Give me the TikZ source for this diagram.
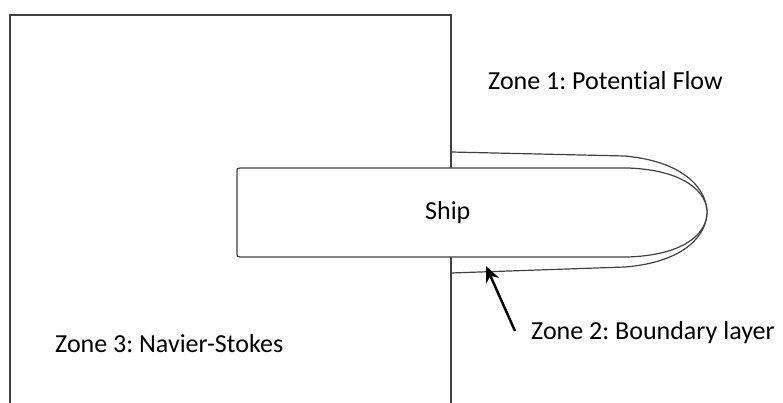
\documentclass[tikz,border=0pt]{standalone}
\usepackage{fontspec}
\setmainfont{Carlito}[Ligatures={NoCommon}]
\usetikzlibrary{arrows.meta}
\begin{document}
\frenchspacing
\begin{tikzpicture}[x=1pt,y=-1pt,
  outline/.style={draw=black!75,line width=1.2pt},
  lbl/.style={font=\fontsize{26}{30}\selectfont,inner sep=0pt,anchor=base west},
  pointer/.style={draw=black,line width=2.5pt,-{Stealth[length=16pt,width=14pt]}}]
\useasboundingbox (0,0) rectangle (783,403);
% zone 3 box (open at the bottom)
\draw[outline] (10,403) -- (10,15) -- (451,15) -- (451,403);
% boundary layer
\draw[outline] (451,152) -- (625,156) .. controls (688,162) and (707,192) .. (707,212)
  .. controls (707,234) and (686,262) .. (625,267) -- (451,273);
% ship
\draw[outline,fill=white] (240,168) -- (628,168) .. controls (684,170) and (707,192) .. (707,212)
  .. controls (707,234) and (684,255) .. (628,257) -- (240,257)
  .. controls (237,257) and (237,256) .. (237,254) -- (237,171) .. controls (237,169) and (237,168) .. (240,168) -- cycle;
\node[lbl] (ship) at (425,219) {Ship};
\node[lbl] (z1) at (488,90) {Zone 1: Potential Flow};
\node[lbl] (z2) at (531,339) {Zone 2: Boundary layer};
\node[lbl] (z3) at (55,352) {Zone 3: Navier-Stokes};
\coordinate (atail) at (515,331);
\coordinate (ahead) at (486,266);
\draw[pointer] (atail) -- (ahead);
\end{tikzpicture}
\end{document}
